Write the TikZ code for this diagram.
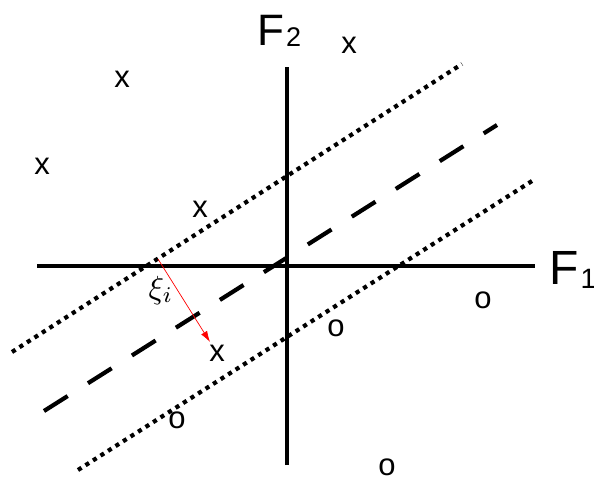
\documentclass[tikz,border=0pt]{standalone}
\usepackage{fontspec}
\setmainfont{Liberation Sans}
\usetikzlibrary{arrows.meta}
\tikzset{
  sample/.style={font=\fontsize{31}{31}\selectfont, inner sep=0pt},
  axis/.style={line width=3.2pt},
  margin/.style={line width=4.2pt, dash pattern=on 4.2pt off 4.7pt},
  hyper/.style={line width=4.2pt, dash pattern=on 28pt off 24pt},
  slack/.style={red, line width=0.7pt, -{Latex[length=11pt,width=7pt]}}
}
\begin{document}
\begin{tikzpicture}[x=1pt,y=-1pt]
        \useasboundingbox (0,0) rectangle (594,481);
        % feature axes
        \coordinate (hw) at (37,266);  \coordinate (he) at (535,266);
        \coordinate (vs) at (287,465); \coordinate (vn) at (287,67);
        \draw[axis] (hw)--(he);
        \draw[axis] (vs)--(vn);
        \node[anchor=base west, inner sep=0pt, font=\fontsize{48}{48}\selectfont] (f1) at (549,284)
            {F\kern2pt\raisebox{-4pt}{\fontsize{28}{28}\selectfont 1}};
        \node[anchor=base west, inner sep=0pt, font=\fontsize{44}{44}\selectfont] (f2) at (257,46)
            {F\kern2pt\raisebox{-1pt}{\fontsize{27}{27}\selectfont 2}};
        % separating line and margins
        \coordinate (ua) at (12,352);  \coordinate (ub) at (462,64);
        \coordinate (ma) at (44,411);  \coordinate (mb) at (497,125);
        \coordinate (la) at (78,470);  \coordinate (lb) at (532,181);
        \draw[margin] (ua)--(ub);
        \draw[hyper] (ma)--(mb);
        \draw[margin] (la)--(lb);
        % samples
        \foreach \px/\py [count=\i] in {122/79,42/166,200/209,349/45,217/353}
            \node[sample] (x\i) at (\px,\py) {x};
        \foreach \px/\py [count=\i] in {483/300,336/328,177/420,387/467}
            \node[sample] (o\i) at (\px,\py) {o};
        % slack of the misplaced sample
        \coordinate (foot) at (158,259);
        \coordinate (tip) at (210,342);
        \draw[slack] (foot)--(tip);
        \node[scale=3.2] (xi) at (161,290) {$\xi_i$};
    \end{tikzpicture}
\end{document}
